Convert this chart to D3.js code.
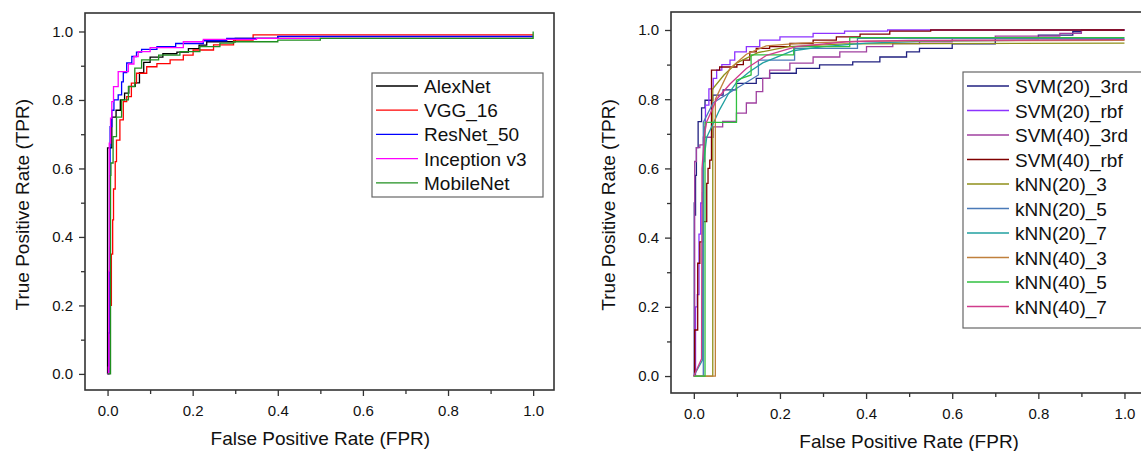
<!DOCTYPE html>
<html><head><meta charset="utf-8">
<script src="https://cdn.jsdelivr.net/npm/d3@7"></script>
<style>body{margin:0;background:#fff}svg{display:block}text{font-family:"Liberation Sans",Arial,sans-serif;fill:#111}</style>
</head><body><svg id="c" width="1141" height="451"></svg>
<script>
// ---------- data ----------
const majorTicks = [0, 0.2, 0.4, 0.6, 0.8, 1.0];
const minorTicks = [0.1, 0.3, 0.5, 0.7, 0.9];
const xTitle = "False Positive Rate (FPR)";
const yTitle = "True Positive Rate (TPR)";

// left panel (CNN models): [FPR, TPR]
const leftNames = ["AlexNet", "VGG_16", "ResNet_50", "Inception v3", "MobileNet"];
const leftColors = ["#000000", "#ff0000", "#0000ff", "#ff00ff", "#1f8f1f"];
const alexNet = [[0,0],[0,0.66],[0.01,0.75],[0.02,0.77],[0.03,0.80],[0.04,0.82],[0.05,0.84],[0.065,0.85],[0.075,0.88],[0.085,0.91],[0.1,0.925],[0.13,0.935],[0.163,0.94],[0.19,0.95],[0.215,0.96],[0.233,0.97],[0.3,0.98],[0.4,0.985],[1,0.985]];
const vgg16 = [[0,0],[0.003,0.12],[0.006,0.2],[0.009,0.35],[0.012,0.45],[0.014,0.54],[0.018,0.62],[0.021,0.683],[0.029,0.742],[0.037,0.795],[0.045,0.81],[0.056,0.849],[0.068,0.878],[0.092,0.897],[0.116,0.906],[0.147,0.917],[0.178,0.931],[0.201,0.946],[0.249,0.961],[0.296,0.975],[0.342,0.99],[1,0.99]];
const resNet50 = [[0,0],[0.003,0.12],[0.005,0.37],[0.006,0.722],[0.01,0.77],[0.015,0.80],[0.025,0.815],[0.033,0.853],[0.037,0.88],[0.045,0.908],[0.057,0.927],[0.068,0.94],[0.08,0.948],[0.116,0.956],[0.16,0.965],[0.225,0.973],[0.28,0.98],[0.4,0.986],[1,0.986]];
const inceptionV3 = [[0,0],[0.002,0.02],[0.003,0.3],[0.004,0.674],[0.007,0.747],[0.01,0.795],[0.014,0.839],[0.025,0.883],[0.049,0.905],[0.062,0.927],[0.072,0.941],[0.1,0.953],[0.178,0.97],[0.225,0.977],[0.35,0.98],[1,0.98]];
const mobileNet = [[0,0],[0.007,0.58],[0.008,0.616],[0.013,0.693],[0.021,0.75],[0.033,0.80],[0.049,0.839],[0.064,0.893],[0.08,0.917],[0.12,0.931],[0.17,0.941],[0.217,0.956],[0.264,0.966],[0.296,0.97],[0.4,0.975],[0.5,0.98],[1,0.983],[1,1]];
const leftSeries = [alexNet, vgg16, resNet50, inceptionV3, mobileNet];

// right panel (SVM / kNN): [FPR, TPR]
const rightNames = ["SVM(20)_3rd","SVM(20)_rbf","SVM(40)_3rd","SVM(40)_rbf","kNN(20)_3","kNN(20)_5","kNN(20)_7","kNN(40)_3","kNN(40)_5","kNN(40)_7"];
const rightColors = ["#202080","#8c33ff","#a040a0","#800000","#8f8f1a","#4a7ab8","#20a0a0","#c0803c","#30c040","#d03c8c"];
const rightStep = [true,true,true,true,false,false,false,false,false,false];
const svm20_3rd = [[0,0],[0.001,0.5],[0.002,0.465],[0.004,0.58],[0.006,0.66],[0.01,0.735],[0.018,0.775],[0.026,0.797],[0.044,0.812],[0.068,0.827],[0.099,0.846],[0.145,0.86],[0.176,0.875],[0.238,0.889],[0.292,0.899],[0.369,0.908],[0.432,0.922],[0.494,0.937],[0.524,0.947],[0.6,0.96],[0.7,0.975],[0.8,0.985],[0.88,0.995],[0.9,1.0],[1,1]];
const svm20_rbf = [[0,0],[0.004,0.2],[0.008,0.235],[0.012,0.41],[0.016,0.5],[0.02,0.53],[0.022,0.62],[0.025,0.72],[0.027,0.783],[0.035,0.83],[0.045,0.86],[0.053,0.884],[0.065,0.9],[0.084,0.913],[0.095,0.937],[0.122,0.952],[0.153,0.971],[0.2,0.98],[0.277,0.99],[0.35,0.997],[0.45,1.0],[1,1]];
const svm40_3rd = [[0,0],[0.002,0.62],[0.006,0.66],[0.014,0.668],[0.022,0.69],[0.045,0.72],[0.067,0.736],[0.099,0.76],[0.122,0.789],[0.145,0.822],[0.16,0.86],[0.176,0.884],[0.223,0.904],[0.277,0.922],[0.339,0.937],[0.401,0.952],[0.462,0.961],[0.524,0.966],[0.6,0.975],[0.7,0.982],[0.85,0.99],[0.9,1.0],[1,1]];
const svm40_rbf = [[0,0],[0.002,0.133],[0.009,0.326],[0.014,0.388],[0.022,0.446],[0.03,0.557],[0.033,0.6],[0.037,0.624],[0.041,0.884],[0.06,0.893],[0.1,0.90],[0.115,0.913],[0.13,0.937],[0.145,0.947],[0.176,0.952],[0.223,0.961],[0.277,0.971],[0.331,0.98],[0.386,0.988],[0.455,0.997],[0.55,1],[1,1]];
const knn20_3 = [[0,0],[0.044,0],[0.044,0.83],[0.07,0.87],[0.1,0.905],[0.15,0.935],[0.22,0.952],[0.35,0.96],[1,0.962]];
const knn20_5 = [[0,0],[0.022,0],[0.022,0.733],[0.045,0.79],[0.15,0.87],[0.15,0.913],[0.234,0.913],[0.234,0.947],[0.38,0.947],[0.38,0.976],[1,0.976]];
const knn20_7 = [[0,0],[0.02,0.046],[0.021,0.6],[0.03,0.69],[0.045,0.73],[0.06,0.77],[0.08,0.815],[0.1,0.85],[0.13,0.88],[0.16,0.905],[0.2,0.925],[0.23,0.94],[0.3,0.952],[0.4,0.962],[0.55,0.968],[1,0.972]];
const knn40_3 = [[0,0],[0.05,0],[0.05,0.80],[0.084,0.889],[0.122,0.93],[0.168,0.954],[0.25,0.962],[0.4,0.968],[1,0.97]];
const knn40_5 = [[0,0],[0.026,0],[0.026,0.733],[0.099,0.733],[0.099,0.855],[0.133,0.87],[0.133,0.928],[0.232,0.928],[0.232,0.952],[0.362,0.952],[0.362,0.978],[1,0.978]];
const knn40_7 = [[0,0],[0.018,0.05],[0.019,0.6],[0.025,0.7],[0.03,0.735],[0.053,0.80],[0.084,0.844],[0.122,0.889],[0.169,0.927],[0.238,0.952],[0.354,0.966],[0.5,0.97],[1,0.972]];
const rightSeries = [svm20_3rd, svm20_rbf, svm40_3rd, svm40_rbf, knn20_3, knn20_5, knn20_7, knn40_3, knn40_5, knn40_7];

// ---------- drawing ----------
const svg = d3.select("#c");
const axisColor = "#333";

function panel(cfg) {
  const x = d3.scaleLinear().domain(cfg.xd).range(cfg.xr);
  const y = d3.scaleLinear().domain(cfg.yd).range(cfg.yr);
  const g = svg.append("g");

  cfg.series.forEach((s, i) => {
    const line = d3.line().x(d => x(d[0])).y(d => y(d[1]))
      .curve(cfg.step[i] ? d3.curveStepAfter : d3.curveLinear);
    g.append("path").attr("d", line(s)).attr("fill", "none")
      .attr("stroke", cfg.colors[i]).attr("stroke-width", 1.3)
      .attr("stroke-linejoin", "miter");
  });

  g.append("rect").attr("x", cfg.xr[0]).attr("y", cfg.yr[1])
    .attr("width", cfg.xr[1] - cfg.xr[0]).attr("height", cfg.yr[0] - cfg.yr[1])
    .attr("fill", "none").attr("stroke", axisColor).attr("stroke-width", 1.6);

  const styleAxis = sel => {
    sel.select(".domain").remove();
    sel.selectAll("line").attr("stroke", axisColor).attr("stroke-width", 1.3);
    sel.selectAll("text").style("font-size", "15px").attr("fill", "#111");
  };
  g.append("g").attr("transform", `translate(0,${cfg.yr[0]})`)
    .call(d3.axisBottom(x).tickValues(majorTicks).tickFormat(d3.format(".1f")).tickSize(6).tickPadding(9))
    .call(styleAxis);
  g.append("g").attr("transform", `translate(0,${cfg.yr[0]})`)
    .call(d3.axisBottom(x).tickValues(minorTicks).tickFormat("").tickSize(4))
    .call(styleAxis);
  g.append("g").attr("transform", `translate(${cfg.xr[0]},0)`)
    .call(d3.axisLeft(y).tickValues(majorTicks).tickFormat(d3.format(".1f")).tickSize(6).tickPadding(6))
    .call(styleAxis);
  g.append("g").attr("transform", `translate(${cfg.xr[0]},0)`)
    .call(d3.axisLeft(y).tickValues(minorTicks).tickFormat("").tickSize(4))
    .call(styleAxis);

  g.append("text").attr("x", x(0.5)).attr("y", cfg.xTitleY).attr("text-anchor", "middle")
    .style("font-size", "19px").text(xTitle);
  g.append("text").attr("transform", `translate(${cfg.yTitleX},${y(0.5) + 2}) rotate(-90)`)
    .attr("text-anchor", "middle").style("font-size", "19px").text(yTitle);

  const L = cfg.legend;
  g.append("rect").attr("x", L.x).attr("y", L.y).attr("width", L.w).attr("height", L.h)
    .attr("fill", "#fff").attr("stroke", "#666").attr("stroke-width", 1.2);
  cfg.names.forEach((n, i) => {
    const yy = L.first + i * L.step;
    g.append("line").attr("x1", L.x + 4).attr("x2", L.x + 46).attr("y1", yy).attr("y2", yy)
      .attr("stroke", cfg.colors[i]).attr("stroke-width", 1.3);
    g.append("text").attr("x", L.x + 52).attr("y", yy + 7).style("font-size", "19px").text(n);
  });
}

panel({
  series: leftSeries, colors: leftColors, names: leftNames, step: leftSeries.map(() => true),
  xd: [-0.053, 1.049], xr: [85, 554], yd: [-0.047, 1.054], yr: [390, 13],
  xTitleY: 445, yTitleX: 29,
  legend: {x: 372, y: 73, w: 171, h: 124, first: 86, step: 24.2}
});
panel({
  series: rightSeries, colors: rightColors, names: rightNames, step: rightStep,
  xd: [-0.053, 1.05], xr: [671, 1146], yd: [-0.049, 1.052], yr: [393, 12],
  xTitleY: 448, yTitleX: 615,
  legend: {x: 963, y: 72, w: 190, h: 256, first: 86, step: 24.5}
});
</script></body></html>
